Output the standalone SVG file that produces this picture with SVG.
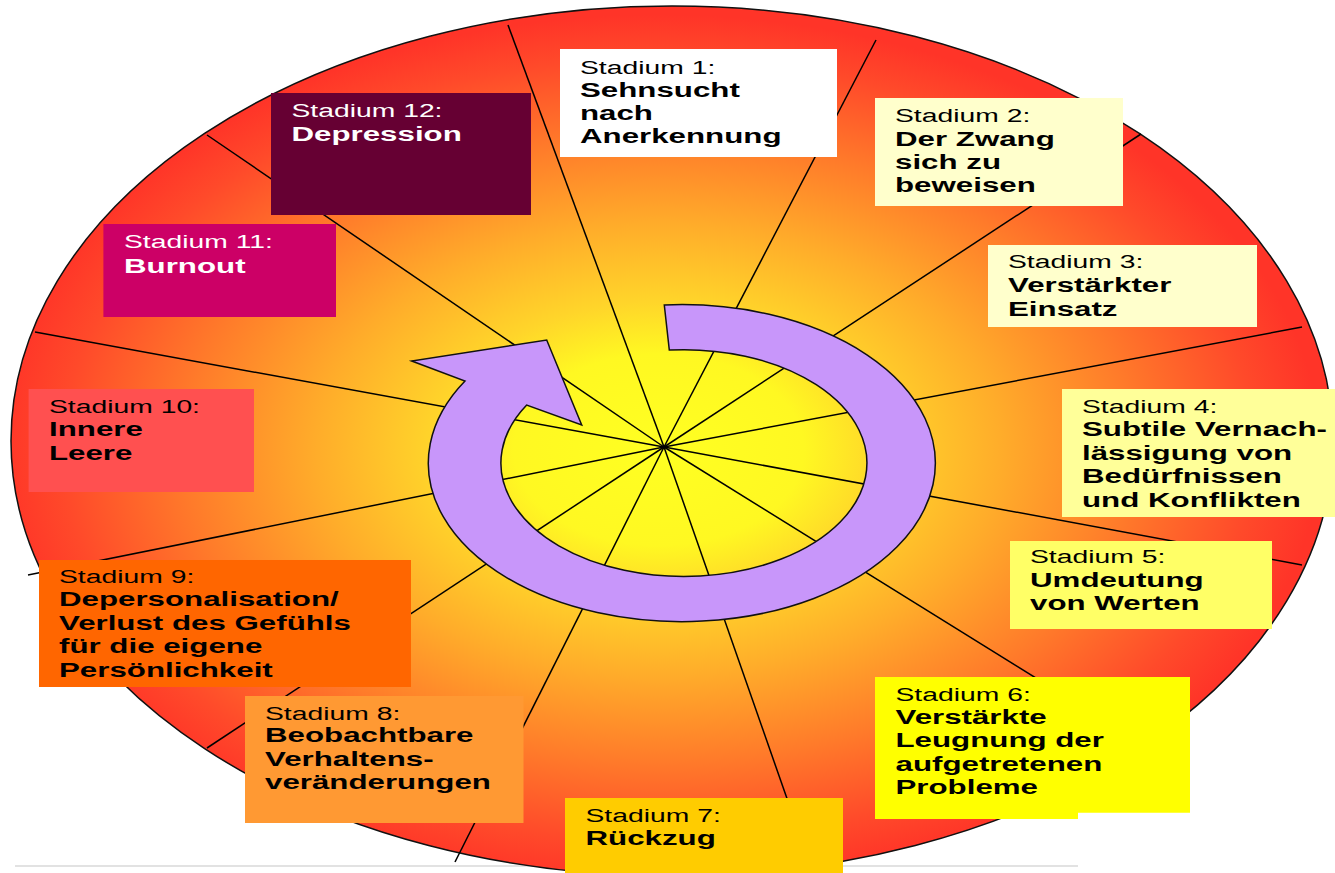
<svg xmlns="http://www.w3.org/2000/svg" width="1335" height="873" viewBox="0 0 1335 873">
<defs>
<radialGradient id="bg" cx="0.49" cy="0.51" r="0.5" fx="0.49" fy="0.51">
<stop offset="0" stop-color="#FFFF22"/>
<stop offset="0.22" stop-color="#FFF822"/>
<stop offset="0.34" stop-color="#FFD52A"/>
<stop offset="0.52" stop-color="#FFAC2A"/>
<stop offset="0.72" stop-color="#FF7A2A"/>
<stop offset="0.9" stop-color="#FF4A2A"/>
<stop offset="1" stop-color="#FF3428"/>
</radialGradient>
<style>
.t{font-family:"Liberation Sans",Arial,sans-serif;fill:#000}
.w{fill:#FFFFFF}
.r{font-size:19px;font-weight:normal}
.b{font-size:21px;font-weight:bold}
.ln{stroke:#000;stroke-width:1.5;fill:none}
</style>
</defs>
<rect width="1335" height="873" fill="#FFFFFF"/>
<line x1="15" y1="866" x2="1078" y2="866" stroke="#E2E2E2" stroke-width="2"/>
<ellipse id="background" cx="672" cy="441" rx="661" ry="435" fill="url(#bg)" stroke="#111" stroke-width="1.5"/>
<g id="connectors" class="ln">
<line x1="664" y1="447" x2="508" y2="25"/>
<line x1="664" y1="447" x2="876" y2="40"/>
<line x1="664" y1="447" x2="1141" y2="134"/>
<line x1="664" y1="447" x2="1302" y2="327"/>
<line x1="664" y1="447" x2="1302" y2="565"/>
<line x1="664" y1="447" x2="1110" y2="724"/>
<line x1="664" y1="447" x2="805" y2="850"/>
<line x1="664" y1="447" x2="455" y2="862"/>
<line x1="664" y1="447" x2="207" y2="748"/>
<line x1="664" y1="447" x2="28" y2="575"/>
<line x1="664" y1="447" x2="35" y2="332"/>
<line x1="664" y1="447" x2="207" y2="135"/>
</g>
<g id="cycle-arrow">
<path d="M 664.3 305 A 253.5 158.5 0 1 1 465 381 L 411.7 361 L 546.7 340 L 581.7 425 L 526.7 405 A 183 113.4 0 1 0 669.3 350 Z" fill="#C896FA" stroke="#111" stroke-width="1.5" stroke-linejoin="miter"/>
</g>
<g id="stadium-1">
<rect x="560" y="49" width="277" height="108" fill="#FFFFFF"/>
<text class="t" transform="matrix(1.49 0 0 1 580 0)"><tspan x="0" y="74" class="r">Stadium 1:</tspan><tspan x="0" y="97" class="b">Sehnsucht</tspan><tspan x="0" y="120" class="b">nach</tspan><tspan x="0" y="143" class="b">Anerkennung</tspan></text>
</g>
<g id="stadium-2">
<rect x="875" y="98" width="248" height="108" fill="#FFFFCC"/>
<text class="t" transform="matrix(1.49 0 0 1 895 0)"><tspan x="0" y="122" class="r">Stadium 2:</tspan><tspan x="0" y="146" class="b">Der Zwang</tspan><tspan x="0" y="169" class="b">sich zu</tspan><tspan x="0" y="192" class="b">beweisen</tspan></text>
</g>
<g id="stadium-3">
<rect x="988" y="245" width="269" height="82" fill="#FFFFCC"/>
<text class="t" transform="matrix(1.49 0 0 1 1008 0)"><tspan x="0" y="268" class="r">Stadium 3:</tspan><tspan x="0" y="292" class="b">Verstärkter</tspan><tspan x="0" y="316" class="b">Einsatz</tspan></text>
</g>
<g id="stadium-4">
<rect x="1062" y="389" width="273" height="128" fill="#FFFF99"/>
<text class="t" transform="matrix(1.49 0 0 1 1082 0)"><tspan x="0" y="413.5" class="r">Stadium 4:</tspan><tspan x="0" y="436.5" class="b">Subtile Vernach-</tspan><tspan x="0" y="460" class="b">lässigung von</tspan><tspan x="0" y="483.3" class="b">Bedürfnissen</tspan><tspan x="0" y="506.7" class="b">und Konflikten</tspan></text>
</g>
<g id="stadium-5">
<rect x="1010" y="541" width="262" height="88" fill="#FFFF66"/>
<text class="t" transform="matrix(1.49 0 0 1 1030 0)"><tspan x="0" y="563" class="r">Stadium 5:</tspan><tspan x="0" y="587" class="b">Umdeutung</tspan><tspan x="0" y="610" class="b">von Werten</tspan></text>
</g>
<g id="stadium-6">
<path d="M875 677 H1190 V812.7 H1078 V819 H875 Z" fill="#FFFF00"/>
<text class="t" transform="matrix(1.49 0 0 1 895.5 0)"><tspan x="0" y="700.7" class="r">Stadium 6:</tspan><tspan x="0" y="723.7" class="b">Verstärkte</tspan><tspan x="0" y="747" class="b">Leugnung der</tspan><tspan x="0" y="770.7" class="b">aufgetretenen</tspan><tspan x="0" y="794" class="b">Probleme</tspan></text>
</g>
<g id="stadium-7">
<rect x="565" y="798" width="278" height="75" fill="#FFCC00"/>
<text class="t" transform="matrix(1.49 0 0 1 585.5 0)"><tspan x="0" y="822" class="r">Stadium 7:</tspan><tspan x="0" y="845" class="b">Rückzug</tspan></text>
</g>
<g id="stadium-8">
<rect x="245" y="696" width="278.5" height="127" fill="#FF9933"/>
<text class="t" transform="matrix(1.49 0 0 1 265 0)"><tspan x="0" y="720" class="r">Stadium 8:</tspan><tspan x="0" y="742.3" class="b">Beobachtbare</tspan><tspan x="0" y="766" class="b">Verhaltens-</tspan><tspan x="0" y="789.3" class="b">veränderungen</tspan></text>
</g>
<g id="stadium-9">
<rect x="39" y="560" width="372" height="127" fill="#FF6600"/>
<text class="t" transform="matrix(1.49 0 0 1 59 0)"><tspan x="0" y="583.3" class="r">Stadium 9:</tspan><tspan x="0" y="606" class="b">Depersonalisation/</tspan><tspan x="0" y="630" class="b">Verlust des Gefühls</tspan><tspan x="0" y="653.3" class="b">für die eigene</tspan><tspan x="0" y="676.7" class="b">Persönlichkeit</tspan></text>
</g>
<g id="stadium-10">
<rect x="28.6" y="389" width="225.4" height="103" fill="#FF5050"/>
<text class="t" transform="matrix(1.49 0 0 1 49 0)"><tspan x="0" y="413" class="r">Stadium 10:</tspan><tspan x="0" y="436.5" class="b">Innere</tspan><tspan x="0" y="460" class="b">Leere</tspan></text>
</g>
<g id="stadium-11">
<rect x="103.4" y="224" width="232.6" height="93" fill="#CC0066"/>
<text class="t w" transform="matrix(1.49 0 0 1 124 0)"><tspan x="0" y="248.3" class="r">Stadium 11:</tspan><tspan x="0" y="272.7" class="b">Burnout</tspan></text>
</g>
<g id="stadium-12">
<rect x="271" y="93" width="260" height="122" fill="#660033"/>
<text class="t w" transform="matrix(1.49 0 0 1 291.5 0)"><tspan x="0" y="117.3" class="r">Stadium 12:</tspan><tspan x="0" y="140.7" class="b">Depression</tspan></text>
</g>
</svg>
